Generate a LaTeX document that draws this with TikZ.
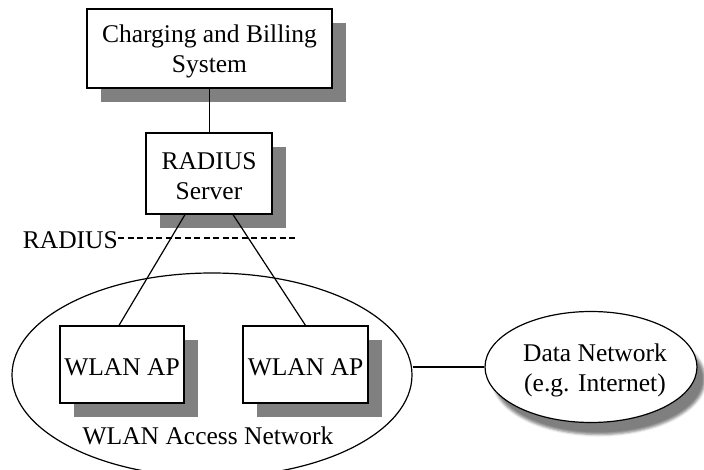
\documentclass[tikz,border=0pt]{standalone}
\usepackage{fontspec}
\setmainfont{Liberation Serif}
\usetikzlibrary{shapes.geometric,shadows,shadows.blur,calc}

\tikzset{
  line/.style={line width=1.2pt, draw=black},
  txt/.style={font=\fontsize{25.5}{30}\selectfont},
  plain/.style={inner sep=0pt, align=center, txt},
  shadowed/.style={copy shadow={fill=black!50, draw=none, shadow xshift=14pt, shadow yshift=-14pt}},
  % box with its caption set a little below the geometric centre
  boxnode/.style={line, fill=white, shadowed, inner sep=0pt,
                  label={[plain, yshift=-3pt]center:#1}},
  netcloud/.style={line, ellipse, fill=white, inner sep=0pt},
}

\begin{document}
\begin{tikzpicture}[x=1pt, y=-1pt]
  \useasboundingbox (0,0) rectangle (704,470);
  \clip (0,0) rectangle (704,470);

  % access network cloud (drawn first, sits behind the access points)
  \node[line, ellipse, minimum width=400pt, minimum height=204pt, inner sep=0pt]
       (wlan) at (212,375) {};
  \node[plain] (wlanlabel) at (208,436) {WLAN Access Network};

  % servers
  \node[boxnode={Charging and Billing\\System}, minimum width=245pt, minimum height=79pt]
       (cbs) at (209.5,48.5) {};
  \node[boxnode={RADIUS\\Server}, minimum width=126pt, minimum height=81pt]
       (radius) at (209,173.5) {};

  % access points
  \node[boxnode={WLAN AP}, minimum width=124pt, minimum height=77pt] (ap1) at (122,364.5) {};
  \node[boxnode={WLAN AP}, minimum width=125pt, minimum height=77pt] (ap2) at (305.5,364.5) {};

  % external data network
  \node[netcloud, minimum width=212pt, minimum height=111pt,
        blur shadow={shadow xshift=8pt, shadow yshift=-12pt, shadow blur radius=2.5pt,
                     shadow opacity=50}]
       (dn) at (591,367) {};
  \node[plain] (dntext) at (595,370) {Data Network\\(e.g. Internet)};

  % links
  \draw[line] (cbs.south) -- (cbs.south |- radius.north);
  \draw[line] ([xshift=-24pt]radius.south) -- ([xshift=-3pt]ap1.north);
  \draw[line] ([xshift=24pt]radius.south) -- (ap2.north);
  \draw[line] (dn.west -| wlan.east) -- (dn.west);

  % protocol boundary
  \node[plain, anchor=east] (radlabel) at (118,240) {RADIUS};
  \coordinate (radend) at (297,238);
  \draw[line, dash pattern=on 6pt off 3.5pt] (radlabel.east |- radend) -- (radend);
\end{tikzpicture}
\end{document}
